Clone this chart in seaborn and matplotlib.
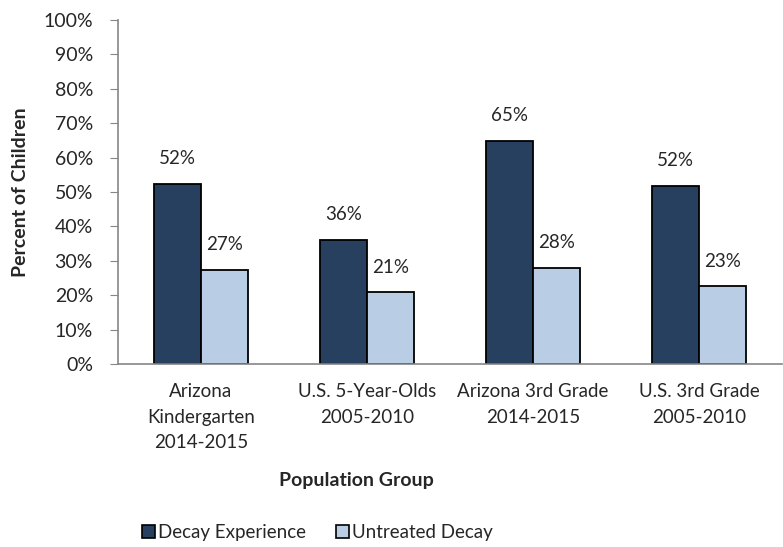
import numpy as np
import pandas as pd
import seaborn as sns
import matplotlib.pyplot as plt
from matplotlib.patches import Patch

groups = ["Arizona\nKindergarten\n2014-2015", "U.S. 5-Year-Olds\n2005-2010",
          "Arizona 3rd Grade\n2014-2015", "U.S. 3rd Grade\n2005-2010"]
series = ["Decay Experience", "Untreated Decay"]
decay_experience = [52.3, 36.0, 64.9, 51.8]
untreated_decay = [27.3, 20.8, 28.0, 22.6]
colors = ["#27405F", "#B9CDE5"]

df = pd.DataFrame({
    "Group": groups * 2,
    "Series": [series[0]] * 4 + [series[1]] * 4,
    "Value": decay_experience + untreated_decay,
})

sns.set_style("white")
plt.rcParams["font.family"] = ["Lato", "DejaVu Sans"]

fig = plt.figure(figsize=(7.83, 5.47), dpi=100)
ax = fig.add_axes([0.1507, 0.3346, 0.8480, 0.6288])

sns.barplot(data=df, x="Group", y="Value", hue="Series", palette=colors,
            saturation=1, width=0.57, edgecolor="black", linewidth=1.3,
            ax=ax, legend=False)

# data labels
for container in ax.containers:
    ax.bar_label(container, labels=[f"{v.get_height():.0f}%" for v in container],
                 padding=12, fontsize=13.5)

ax.set_ylim(0, 100)
ax.set_xlim(-0.5, 3.5)
ax.set_yticks(np.arange(0, 101, 10))
ax.set_yticklabels([f"{t}%" for t in range(0, 101, 10)], fontsize=14)
ax.set_xticks(range(4))
ax.set_xticklabels(groups, fontsize=13.5, linespacing=1.6)
ax.set_xticks(np.arange(-0.5, 4, 1), minor=True)
ax.tick_params(axis="x", which="major", length=0, pad=14)
ax.tick_params(axis="x", which="minor", length=6, color="#868686", direction="out")
ax.tick_params(axis="y", length=6, color="#868686", direction="out", left=True, pad=12)

for s in ["top", "right"]:
    ax.spines[s].set_visible(False)
for s in ["left", "bottom"]:
    ax.spines[s].set_color("#868686")
    ax.spines[s].set_linewidth(1.2)

ax.set_xlabel("")
ax.set_ylabel("Percent of Children", fontsize=14, fontweight="bold", labelpad=10)
fig.text(0.455, 0.122, "Population Group", fontsize=14, fontweight="bold",
         ha="center", va="center")

handles = [Patch(facecolor=c, edgecolor="black", linewidth=1.2) for c in colors]
fig.legend(handles, series, loc="center", bbox_to_anchor=(0.405, 0.026), ncol=2,
           frameon=False, fontsize=13.5, handlelength=0.7, handleheight=0.7,
           handletextpad=0.15, columnspacing=1.6)

fig.savefig("out.png", dpi=100)
